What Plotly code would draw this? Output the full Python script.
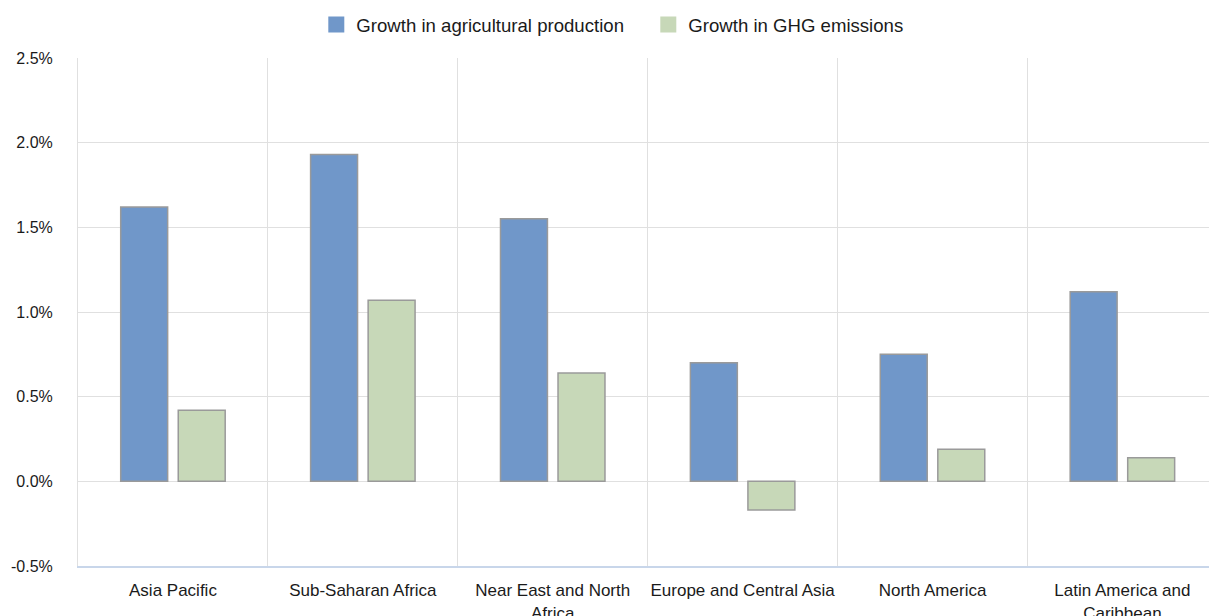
import plotly.graph_objects as go

regions = ["Asia Pacific", "Sub-Saharan Africa", "Near East and North<br>Africa",
           "Europe and Central Asia", "North America", "Latin America and<br>Caribbean"]
production_growth = [0.0162, 0.0193, 0.0155, 0.0070, 0.0075, 0.0112]
ghg_growth = [0.0042, 0.0107, 0.0064, -0.0017, 0.0019, 0.0014]

series_names = ["Growth in agricultural production", "Growth in GHG emissions"]
colors = ["#7097c9", "#c7d8b8"]

y_tickvals = [-0.005, 0.0, 0.005, 0.010, 0.015, 0.020, 0.025]
y_ticktext = ["-0.5%", "0.0%", "0.5%", "1.0%", "1.5%", "2.0%", "2.5%"]

fig = go.Figure()
for name, vals, col in zip(series_names, [production_growth, ghg_growth], colors):
    fig.add_trace(go.Bar(
        x=regions, y=vals, name=name, showlegend=False, legendgroup=name,
        marker=dict(color=col, line=dict(color="#9a9a9a", width=1.5)),
        hovertemplate="%{x}: %{y:.1%}<extra></extra>",
    ))
# legend entries (square swatches without outline)
for name, col in zip(series_names, colors):
    fig.add_trace(go.Scatter(
        x=[None], y=[None], mode="markers", name=name, legendgroup=name,
        marker=dict(symbol="square", size=16, color=col, line=dict(width=0)),
    ))

fig.update_layout(
    width=1209, height=616,
    margin=dict(l=78, r=0, t=58, b=50, autoexpand=False),
    paper_bgcolor="white", plot_bgcolor="white",
    barmode="group", bargap=0.394, bargroupgap=0.184,
    font=dict(family="Liberation Sans, Arial, sans-serif", size=16, color="#1a1a1a"),
    legend=dict(orientation="h", x=0.2107, xanchor="left", y=1.065, yanchor="middle",
                font=dict(size=18.6), entrywidth=287, entrywidthmode="pixels",
                itemclick=False, itemdoubleclick=False),
    showlegend=True,
)
fig.update_xaxes(
    type="category", range=[-0.5, 5.456], automargin=False, tickangle=0,
    tickson="boundaries", showgrid=True, gridcolor="#e0e0e0", gridwidth=1,
    ticks="", showline=True, linecolor="#c8d6ea", linewidth=2,
    ticklabelstandoff=8, tickfont=dict(size=17),
)
fig.update_yaxes(
    range=[-0.005, 0.025], tickvals=y_tickvals, ticktext=y_ticktext, automargin=False,
    showgrid=True, gridcolor="#e0e0e0", gridwidth=1,
    zeroline=True, zerolinecolor="#e0e0e0", zerolinewidth=1,
    showline=True, linecolor="#e0e0e0", linewidth=1,
    ticks="", ticklabelstandoff=21, tickfont=dict(size=16),
)

fig.write_html("out.html")
